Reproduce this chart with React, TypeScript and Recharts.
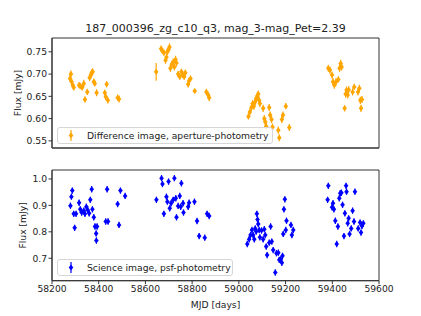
import React from "react";
import {
  ScatterChart,
  Scatter,
  XAxis,
  YAxis,
  ErrorBar,
  Legend,
  ReferenceArea,
} from "recharts";

const FONT = "DejaVu Sans, sans-serif";
const FS = 9.2;

const xTicks = [58200, 58400, 58600, 58800, 59000, 59200, 59400, 59600];
const diffTicks = [0.55, 0.6, 0.65, 0.7, 0.75];
const sciTicks = [0.7, 0.8, 0.9, 1.0];

const title = "187_000396_zg_c10_q3, mag_3-mag_Pet=2.39";

// [mjd, flux, err]
const diffPoints: [number, number, number][] = [
  [58277, 0.69, 0.008], [58281, 0.7, 0.008], [58284, 0.683, 0.008], [58289, 0.675, 0.007],
  [58293, 0.67, 0.007], [58316, 0.675, 0.007], [58321, 0.673, 0.007], [58329, 0.67, 0.007],
  [58336, 0.679, 0.008], [58341, 0.643, 0.007], [58351, 0.66, 0.007], [58361, 0.692, 0.008],
  [58366, 0.698, 0.008], [58370, 0.703, 0.008], [58374, 0.705, 0.008], [58379, 0.683, 0.007],
  [58383, 0.679, 0.007], [58391, 0.658, 0.008], [58426, 0.658, 0.007], [58430, 0.649, 0.007],
  [58434, 0.677, 0.007], [58439, 0.641, 0.007], [58481, 0.647, 0.007], [58487, 0.644, 0.008],
  [58646, 0.705, 0.02], [58667, 0.757, 0.007], [58673, 0.752, 0.007], [58679, 0.748, 0.007],
  [58686, 0.731, 0.008], [58690, 0.738, 0.008], [58694, 0.75, 0.008], [58699, 0.755, 0.008],
  [58703, 0.761, 0.008], [58707, 0.713, 0.008], [58713, 0.722, 0.008], [58719, 0.727, 0.008],
  [58724, 0.716, 0.008], [58729, 0.733, 0.008], [58733, 0.725, 0.008], [58740, 0.7, 0.007],
  [58747, 0.694, 0.007], [58754, 0.705, 0.007], [58760, 0.698, 0.007], [58766, 0.694, 0.007],
  [58771, 0.703, 0.007], [58783, 0.677, 0.007], [58787, 0.685, 0.007], [58793, 0.69, 0.007],
  [58811, 0.662, 0.005], [58861, 0.66, 0.007], [58869, 0.653, 0.007], [58873, 0.647, 0.008],
  [59041, 0.605, 0.007], [59047, 0.615, 0.008], [59054, 0.625, 0.008], [59059, 0.634, 0.008],
  [59064, 0.628, 0.008], [59070, 0.638, 0.008], [59074, 0.645, 0.008], [59079, 0.65, 0.008],
  [59083, 0.655, 0.008], [59087, 0.641, 0.008], [59090, 0.634, 0.008], [59104, 0.623, 0.008],
  [59109, 0.6, 0.008], [59113, 0.593, 0.008], [59117, 0.583, 0.008], [59130, 0.625, 0.008],
  [59134, 0.608, 0.008], [59140, 0.598, 0.008], [59144, 0.581, 0.008], [59169, 0.574, 0.008],
  [59173, 0.557, 0.008], [59184, 0.598, 0.008], [59189, 0.608, 0.008], [59201, 0.628, 0.007],
  [59216, 0.58, 0.008], [59383, 0.713, 0.008], [59390, 0.709, 0.008], [59399, 0.698, 0.008],
  [59403, 0.683, 0.008], [59409, 0.675, 0.008], [59416, 0.683, 0.008], [59426, 0.688, 0.007],
  [59431, 0.713, 0.008], [59436, 0.724, 0.008], [59440, 0.716, 0.008], [59453, 0.623, 0.007],
  [59457, 0.655, 0.008], [59461, 0.664, 0.008], [59466, 0.653, 0.008], [59470, 0.665, 0.008],
  [59487, 0.66, 0.008], [59494, 0.671, 0.007], [59510, 0.66, 0.008], [59516, 0.668, 0.008],
  [59520, 0.641, 0.008], [59523, 0.623, 0.008], [59527, 0.643, 0.008],
];

const sciPoints: [number, number, number][] = [
  [58279, 0.899, 0.012], [58283, 0.933, 0.012], [58287, 0.956, 0.012], [58293, 0.868, 0.012],
  [58297, 0.815, 0.012], [58303, 0.868, 0.012], [58316, 0.91, 0.012], [58321, 0.885, 0.012],
  [58327, 0.873, 0.012], [58336, 0.88, 0.012], [58341, 0.868, 0.012], [58347, 0.895, 0.012],
  [58353, 0.883, 0.012], [58359, 0.87, 0.012], [58364, 0.921, 0.012], [58370, 0.961, 0.012],
  [58373, 0.885, 0.012], [58379, 0.855, 0.012], [58384, 0.82, 0.012], [58389, 0.794, 0.012],
  [58390, 0.767, 0.012], [58393, 0.82, 0.012], [58430, 0.839, 0.012], [58436, 0.961, 0.012],
  [58440, 0.839, 0.012], [58481, 0.905, 0.012], [58487, 0.826, 0.012], [58493, 0.956, 0.012],
  [58513, 0.936, 0.012], [58647, 0.921, 0.012], [58669, 1.003, 0.012], [58673, 0.981, 0.012],
  [58679, 0.868, 0.012], [58690, 0.933, 0.012], [58694, 0.914, 0.012], [58699, 0.99, 0.012],
  [58704, 0.889, 0.012], [58710, 0.908, 0.012], [58719, 0.921, 0.012], [58724, 1.003, 0.012],
  [58730, 0.927, 0.012], [58733, 0.855, 0.012], [58740, 0.898, 0.012], [58747, 0.936, 0.012],
  [58751, 0.895, 0.012], [58754, 0.984, 0.012], [58761, 0.908, 0.012], [58763, 0.873, 0.012],
  [58783, 0.895, 0.012], [58787, 0.91, 0.012], [58810, 0.914, 0.012], [58821, 0.841, 0.012],
  [58830, 0.784, 0.012], [58854, 0.778, 0.012], [58864, 0.868, 0.012], [58873, 0.86, 0.012],
  [59036, 0.754, 0.012], [59044, 0.772, 0.012], [59050, 0.788, 0.012], [59056, 0.807, 0.012],
  [59061, 0.788, 0.012], [59066, 0.772, 0.012], [59070, 0.813, 0.012], [59074, 0.801, 0.012],
  [59077, 0.868, 0.012], [59080, 0.847, 0.012], [59083, 0.83, 0.012], [59087, 0.807, 0.012],
  [59090, 0.779, 0.012], [59097, 0.805, 0.012], [59104, 0.772, 0.012], [59109, 0.81, 0.012],
  [59113, 0.788, 0.012], [59117, 0.744, 0.012], [59121, 0.712, 0.012], [59130, 0.759, 0.012],
  [59136, 0.82, 0.012], [59141, 0.763, 0.012], [59147, 0.731, 0.012], [59156, 0.646, 0.012],
  [59161, 0.719, 0.012], [59169, 0.721, 0.012], [59173, 0.694, 0.012], [59179, 0.696, 0.012],
  [59184, 0.683, 0.012], [59187, 0.709, 0.012], [59190, 0.792, 0.012], [59193, 0.885, 0.012],
  [59197, 0.923, 0.012], [59201, 0.807, 0.012], [59204, 0.842, 0.012], [59223, 0.826, 0.012],
  [59227, 0.788, 0.012], [59233, 0.807, 0.012], [59380, 0.921, 0.012], [59383, 0.974, 0.012],
  [59399, 0.893, 0.012], [59403, 0.908, 0.012], [59407, 0.885, 0.012], [59413, 0.842, 0.012],
  [59419, 0.754, 0.012], [59424, 0.82, 0.012], [59430, 0.927, 0.012], [59434, 0.946, 0.012],
  [59439, 0.948, 0.012], [59444, 0.902, 0.012], [59450, 0.784, 0.012], [59454, 0.87, 0.012],
  [59459, 0.974, 0.012], [59461, 0.952, 0.012], [59466, 0.832, 0.012], [59470, 0.851, 0.012],
  [59474, 0.792, 0.012], [59481, 0.813, 0.012], [59487, 0.88, 0.012], [59493, 0.839, 0.012],
  [59497, 0.952, 0.012], [59511, 0.813, 0.012], [59519, 0.835, 0.012], [59523, 0.797, 0.012],
  [59527, 0.822, 0.012], [59533, 0.832, 0.012],
];

const toRows = (pts: [number, number, number][]) =>
  pts.map(([mjd, flux, err]) => ({ mjd, flux, err }));

const Diamond = (props: any) => {
  const { cx, cy, fill } = props;
  return (
    <polygon
      points={`${cx},${cy - 3} ${cx + 2.3},${cy} ${cx},${cy + 3} ${cx - 2.3},${cy}`}
      fill={fill}
    />
  );
};

const yLabel = (x: number) => (props: any) => {
  const vb = props.viewBox;
  const cy = vb.y + vb.height / 2;
  return (
    <text
      x={x}
      y={cy}
      transform={`rotate(-90 ${x} ${cy})`}
      textAnchor="middle"
      dominantBaseline="central"
      fontSize={FS}
      fontFamily={FONT}
      fill="#222"
    >
      Flux [mJy]
    </text>
  );
};

const legendBox = (label: string, color: string, width: number) => () => (
  <div
    style={{
      width,
      height: 17,
      border: "1px solid #d6d6d6",
      borderRadius: 3,
      background: "rgba(255,255,255,0.8)",
      display: "flex",
      alignItems: "center",
      fontFamily: FONT,
      fontSize: FS,
      color: "#222",
      boxSizing: "border-box",
      whiteSpace: "nowrap",
    }}
  >
    <svg width={29} height={15} style={{ flex: "none" }}>
      <line x1={13} y1={2} x2={13} y2={13} stroke={color} strokeWidth={1.2} />
      <polygon points="13,4.5 15.3,7.5 13,10.5 10.7,7.5" fill={color} />
    </svg>
    <span>{label}</span>
  </div>
);

const tickStyle = { fontSize: FS, fontFamily: FONT, fill: "#222" };
const spine = { stroke: "#333", strokeWidth: 1 };

function Panel(props: {
  rows: any[];
  color: string;
  domain: [number, number];
  ticks: number[];
  digits: number;
  height: number;
  top: number;
  xHeight: number;
  bottomAxis: boolean;
  labelX: number;
  legend: string;
  legendWidth: number;
  legendTop: number;
}) {
  const p = props;
  return (
    <ScatterChart
      width={421}
      height={p.height}
      margin={{ top: p.top, right: 42, bottom: 0, left: 0 }}
    >
      <XAxis
        xAxisId="b"
        dataKey="mjd"
        type="number"
        domain={[58200, 59600]}
        ticks={xTicks}
        height={p.xHeight}
        tick={p.bottomAxis ? tickStyle : false}
        tickSize={3.5}
        tickMargin={1.5}
        axisLine={spine}
        tickLine={spine}
        label={
          p.bottomAxis
            ? (lp: any) => {
                const vb = lp.viewBox;
                return (
                  <text
                    x={vb.x + vb.width / 2}
                    y={vb.y + 23.5}
                    textAnchor="middle"
                    dominantBaseline="central"
                    fontSize={FS}
                    fontFamily={FONT}
                    fill="#222"
                  >
                    MJD [days]
                  </text>
                );
              }
            : undefined
        }
      />
      <YAxis
        yAxisId="l"
        dataKey="flux"
        type="number"
        domain={p.domain}
        ticks={p.ticks}
        width={52}
        tick={tickStyle}
        tickFormatter={(v: number) => v.toFixed(p.digits)}
        tickSize={3.5}
        tickMargin={1.5}
        axisLine={spine}
        tickLine={spine}
        allowDataOverflow
        label={yLabel(p.labelX)}
      />
      <ReferenceArea
        xAxisId="b"
        yAxisId="l"
        x1={58200}
        x2={59600}
        y1={p.domain[0]}
        y2={p.domain[1]}
        fill="none"
        fillOpacity={0}
        stroke="#333"
        strokeWidth={1}
        ifOverflow="extendDomain"
      />
      <Legend
        layout="vertical"
        align="center"
        verticalAlign="middle"
        content={legendBox(p.legend, p.color, p.legendWidth)}
        wrapperStyle={{ left: 57, top: p.legendTop, width: p.legendWidth }}
      />
      <Scatter
        data={p.rows}
        xAxisId="b"
        yAxisId="l"
        fill={p.color}
        shape={<Diamond />}
        isAnimationActive={false}
      >
        <ErrorBar
          dataKey="err"
          direction="y"
          width={0}
          stroke={p.color}
          strokeWidth={1.2}
          isAnimationActive={false}
        />
      </Scatter>
    </ScatterChart>
  );
}

export default function App() {
  return (
    <div
      style={{
        position: "absolute",
        left: 0,
        top: 0,
        width: 421,
        height: 316,
        background: "#fff",
      }}
    >
      <div
        style={{
          position: "absolute",
          left: 52,
          top: 22,
          width: 327,
          textAlign: "center",
          fontFamily: FONT,
          fontSize: 11,
          lineHeight: "14px",
          color: "#222",
        }}
      >
        {title}
      </div>
      <div style={{ position: "absolute", left: 0, top: 0 }}>
        <Panel
          rows={toRows(diffPoints)}
          color="#FFA500"
          domain={[0.534, 0.781]}
          ticks={diffTicks}
          digits={2}
          height={160}
          top={38}
          xHeight={12}
          bottomAxis={false}
          labelX={17}
          legend="Difference image, aperture-photometry"
          legendWidth={216}
          legendTop={127}
        />
      </div>
      <div style={{ position: "absolute", left: 0, top: 160 }}>
        <Panel
          rows={toRows(sciPoints)}
          color="#0000FF"
          domain={[0.615, 1.034]}
          ticks={sciTicks}
          digits={1}
          height={156}
          top={10}
          xHeight={35.3}
          bottomAxis={true}
          labelX={22.7}
          legend="Science image, psf-photometry"
          legendWidth={176}
          legendTop={99}
        />
      </div>
    </div>
  );
}
